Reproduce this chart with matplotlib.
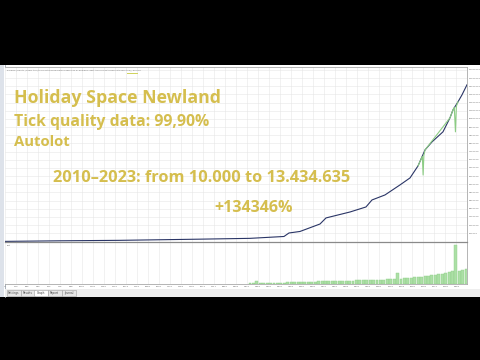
import matplotlib
matplotlib.use("Agg")
import matplotlib.pyplot as plt
from matplotlib.patches import Rectangle
from matplotlib.lines import Line2D
import numpy as np

# ---------------- data ----------------
balance_trades = [0, 714, 1494, 2532, 3182, 3623, 3688, 3831, 4091, 4169, 4481,
                  4688, 4766, 4935, 5130, 5260, 5364, 5455, 5546, 5688, 5779,
                  5818, 5883, 5935, 6000]
balance_values = [10000, 60000, 100000, 200000, 270000, 430000, 730000, 860000,
                  1500000, 2020000, 2530000, 2960000, 3560000, 3990000, 4850000,
                  5450000, 6480000, 7850000, 8540000, 9400000, 10600000,
                  11280000, 11970000, 12570000, 13434635]

equity_trades = [5364, 5420, 5430, 5440, 5455, 5779, 5818, 5835, 5850, 5862, 5883]
equity_values = [6480000, 7300000, 5700000, 7400000, 7850000, 10600000, 11280000,
                 11500000, 9400000, 11600000, 11970000]

volume_values = [1, 1, 3, 1, 1, 1, 1, 1.5, 1.5, 1.5, 1.5, 2,
                 2, 2, 2, 2, 2.5, 2.5, 2.5, 2.5, 3, 3, 3, 3, 3, 3,
                 3.5, 3.5, 3.5, 3.5, 3.5, 4, 4, 4, 4, 4, 4.5, 4.5, 4.5, 4.5, 5, 5, 5,
                 11, 5.5, 6, 6, 6.5, 7, 7, 7.5, 8, 8.5, 9, 9.5,
                 10, 10.5, 11, 12, 13, 39, 13.5, 14, 15]
volume_first_trade = 3182
volume_last_trade = 5990

ytick_step = 700000
xtick_step = 143
total_trades = 6000

header = ("Balance / Equity / Every tick (the most precise method based on all "
          "available least timeframes to generate each tick) / 99.90%")
overlay_lines = ["Holiday Space Newland", "Tick quality data: 99,90%", "Autolot",
                 "2010\u20132023: from 10.000 to 13.434.635", "+134346%"]
tabs = ["Settings", "Results", "Graph", "Report", "Journal"]

# ---------------- figure ----------------
W, H = 480, 360
fig = plt.figure(figsize=(4.8, 3.6), dpi=100, facecolor="black")

def fx(px):
    return px / W

def fy(py):
    return 1 - py / H

# white panel
fig.patches.append(Rectangle((0, fy(296.7)), 1, fy(64.5) - fy(296.7),
                             transform=fig.transFigure, facecolor="white",
                             edgecolor="none", zorder=-3))
# left strip
fig.patches.append(Rectangle((0, fy(296.7)), fx(4.3), fy(64.5) - fy(296.7),
                             transform=fig.transFigure, facecolor="#dde2ea",
                             edgecolor="none", zorder=-2))
fig.lines.append(Line2D([fx(4.5), fx(4.5)], [fy(296.7), fy(64.5)],
                        transform=fig.transFigure, color="#9aa3b0", lw=0.6,
                        zorder=-1))
# tab bar background
fig.patches.append(Rectangle((fx(5), fy(296.7)), fx(475), fy(289) - fy(296.7),
                             transform=fig.transFigure, facecolor="#eeeeee",
                             edgecolor="none", zorder=-1))

grid_color = "#e6e6e6"
font_small = 1.7

# main axes
ax = fig.add_axes([fx(5), fy(242), fx(462), (242 - 66.5) / H])
ax.set_zorder(1)
ax.set_facecolor("white")
ax.plot(balance_trades, balance_values, color="#2a3566", lw=0.8, zorder=3)
ax.plot(equity_trades, equity_values, color="#8ccc84", lw=0.8, zorder=4)
ax.set_xlim(0, total_trades)
ax.set_ylim(-43000, 15000000)
ax.set_xticks(np.arange(0, total_trades, xtick_step))
yt = np.arange(ytick_step, 15000000, ytick_step)
ax.set_yticks(yt)
ax.set_yticklabels([f"{int(v)}" for v in yt])
ax.yaxis.tick_right()
ax.tick_params(axis="y", labelsize=font_small, length=0, pad=1.2, colors="#666666")
ax.tick_params(axis="x", labelbottom=False, length=0)
ax.grid(True, color=grid_color, lw=0.4)
for s in ax.spines.values():
    s.set_color("#a8a8a8")
    s.set_linewidth(0.6)
ax.spines["left"].set_visible(False)

# volume axes
axv = fig.add_axes([fx(5), fy(284), fx(462), 42 / H], sharex=ax)
axv.set_zorder(1)
vol_x = np.linspace(volume_first_trade, volume_last_trade, len(volume_values))
step = vol_x[1] - vol_x[0]
axv.bar(vol_x, volume_values, width=step * 0.85, color="#acdfa6",
        edgecolor="#8fcf88", linewidth=0.3, zorder=3)
axv.set_ylim(0, 42)
axv.set_yticks([])
axv.set_xlim(0, total_trades)
xt = np.arange(0, total_trades, xtick_step)
axv.set_xticks(xt)
axv.set_xticklabels([str(v) for v in xt])
axv.tick_params(axis="x", labelsize=font_small, length=0, pad=1.2, colors="#666666")
axv.grid(True, axis="x", color=grid_color, lw=0.4)
for s in axv.spines.values():
    s.set_color("#a8a8a8")
    s.set_linewidth(0.6)
axv.spines["top"].set_color("#8a8a8a")
axv.spines["top"].set_linewidth(0.9)
axv.spines["left"].set_visible(False)
axv.text(0.004, 0.93, "Lot", transform=axv.transAxes, fontsize=font_small,
         color="#555555", va="top")

# header text
fig.text(fx(7), fy(70.5), header, fontsize=1.55, color="#777777", va="center",
         zorder=5)
fig.lines.append(Line2D([fx(127), fx(137)], [fy(72.7), fy(72.7)],
                        transform=fig.transFigure, color="#cfd25a", lw=0.7,
                        zorder=5))

# tabs
tab_x = [7, 21, 34, 48, 62]
for t, x0 in zip(tabs, tab_x):
    fc = "white" if t == "Graph" else "#e6e6e6"
    fig.patches.append(Rectangle((fx(x0), fy(296)), fx(13.5), fy(289.5) - fy(296),
                                 transform=fig.transFigure, facecolor=fc,
                                 edgecolor="#a0a0a0", lw=0.4, zorder=2))
    fig.text(fx(x0 + 6.75), fy(292.8), t, fontsize=2.0, color="#444444",
             ha="center", va="center", zorder=3)

# overlay texts
gold = "#d5be4e"
fam = ["Open Sans", "DejaVu Sans"]
kw = dict(color=gold, fontweight="bold", family=fam, va="baseline", zorder=10)
fig.text(fx(14), fy(103), overlay_lines[0], fontsize=12.8, **kw)
fig.text(fx(14), fy(125.5), overlay_lines[1], fontsize=11.3, **kw)
fig.text(fx(14), fy(146.5), overlay_lines[2], fontsize=10.7, **kw)
fig.text(fx(53), fy(182), overlay_lines[3], fontsize=11.8, **kw)
fig.text(fx(214), fy(212), overlay_lines[4], fontsize=11.5, **kw)

fig.savefig("out.png", dpi=100, facecolor="black")
